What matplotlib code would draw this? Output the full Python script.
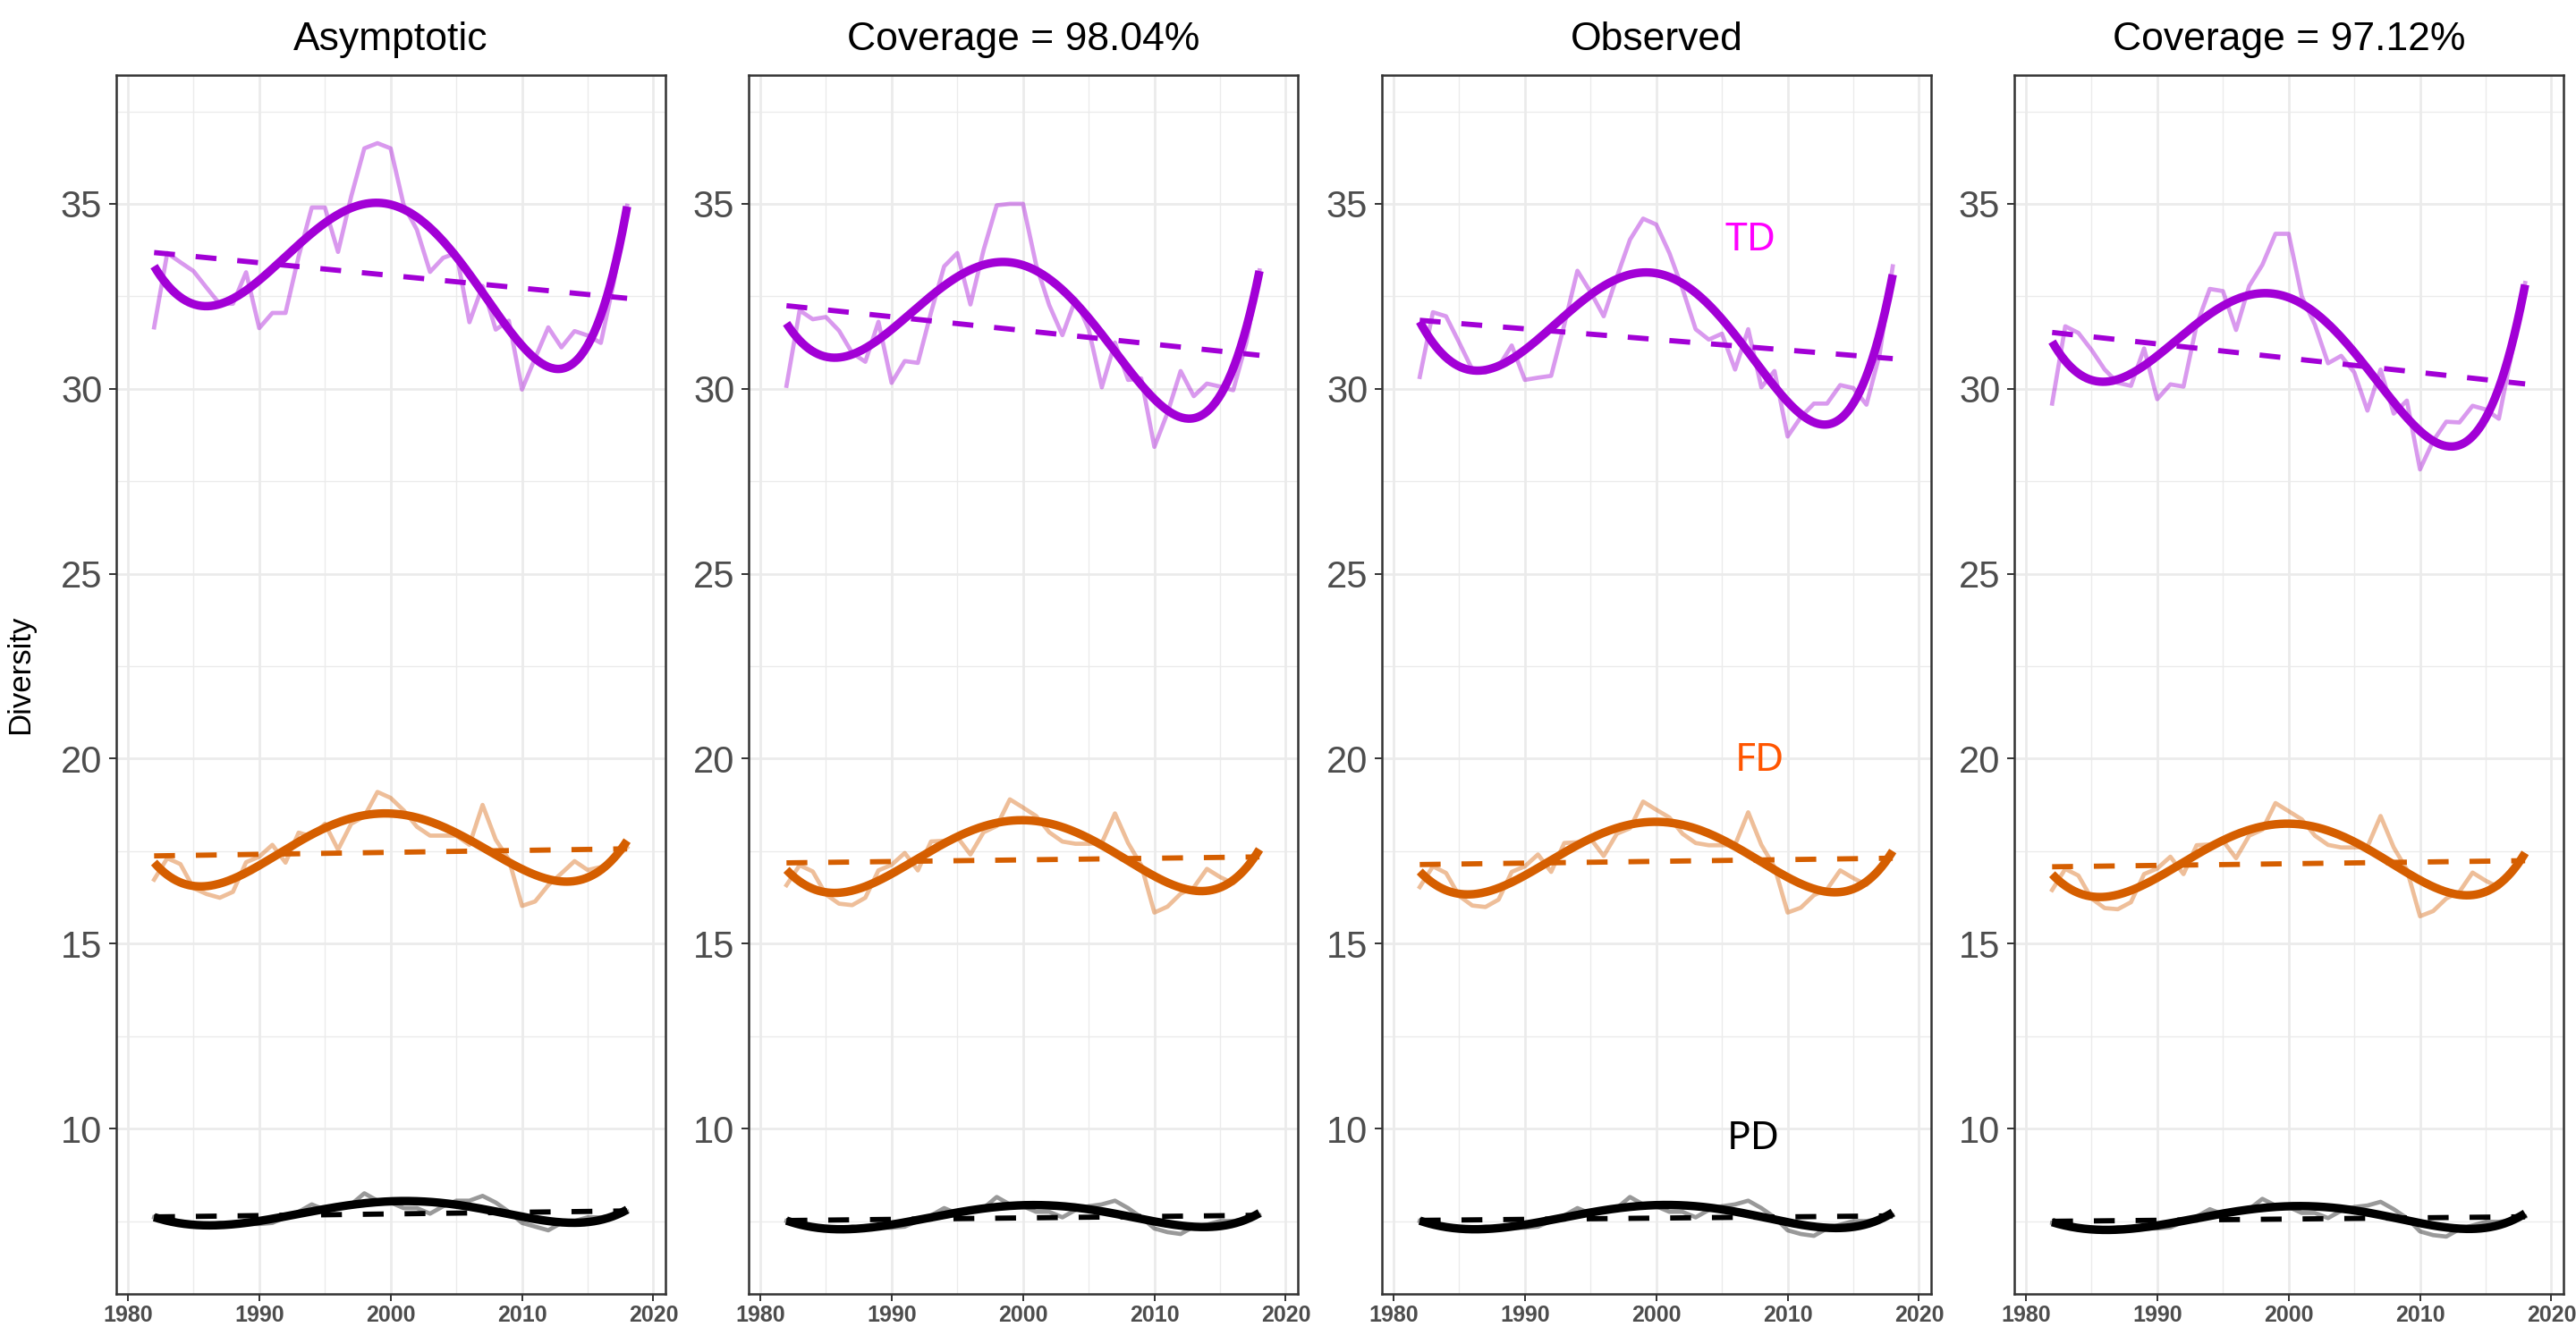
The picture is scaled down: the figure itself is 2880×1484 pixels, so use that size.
import numpy as np
import matplotlib.pyplot as plt
from matplotlib.ticker import MultipleLocator

# yearly diversity values, 1982-2018
years = np.arange(1982, 2019)

titles = ["Asymptotic", "Coverage = 98.04%", "Observed", "Coverage = 97.12%"]

td1 = [31.66, 33.67, 33.42, 33.18, 32.73, 32.29, 32.30, 33.15, 31.64, 32.05, 32.05, 33.58, 34.90,
       34.90, 33.70, 35.20, 36.50, 36.64, 36.50, 34.96, 34.30, 33.16, 33.54, 33.67, 31.80, 32.78,
       31.60, 31.84, 29.98, 30.83, 31.66, 31.12, 31.56, 31.44, 31.24, 32.90, 34.95]
td2 = [30.08, 32.12, 31.88, 31.94, 31.57, 30.97, 30.73, 31.81, 30.16, 30.75, 30.70, 32.06, 33.31,
       33.67, 32.28, 33.75, 34.96, 35.00, 35.00, 33.35, 32.26, 31.45, 32.42, 31.61, 30.04, 31.25,
       30.24, 30.28, 28.43, 29.35, 30.48, 29.80, 30.14, 30.06, 29.96, 31.25, 33.20]
td3 = [30.32, 32.07, 31.96, 31.25, 30.52, 30.44, 30.60, 31.17, 30.24, 30.30, 30.35, 31.73, 33.19,
       32.62, 31.96, 33.02, 34.03, 34.60, 34.44, 33.67, 32.70, 31.61, 31.33, 31.49, 30.52, 31.61,
       30.04, 30.48, 28.71, 29.23, 29.60, 29.60, 30.10, 30.02, 29.57, 30.93, 33.31]
td4 = [29.60, 31.69, 31.51, 31.05, 30.52, 30.16, 30.08, 31.09, 29.72, 30.12, 30.06, 31.73, 32.70,
       32.64, 31.59, 32.78, 33.35, 34.19, 34.19, 32.50, 31.73, 30.69, 30.89, 30.44, 29.41, 30.52,
       29.33, 29.68, 27.82, 28.59, 29.11, 29.09, 29.54, 29.44, 29.19, 31.00, 32.86]

fd1 = [16.73, 17.31, 17.15, 16.50, 16.34, 16.24, 16.40, 17.20, 17.35, 17.67, 17.19, 18.00, 17.90,
       18.24, 17.54, 18.24, 18.44, 19.10, 18.94, 18.60, 18.16, 17.92, 17.92, 17.92, 17.67, 18.75,
       17.81, 17.27, 16.02, 16.14, 16.58, 16.90, 17.23, 16.99, 17.07, 17.27, 17.60]
fd2 = [16.58, 17.12, 16.95, 16.33, 16.08, 16.04, 16.24, 16.98, 17.13, 17.45, 16.98, 17.76, 17.78,
       17.88, 17.41, 18.01, 18.18, 18.90, 18.68, 18.45, 18.01, 17.76, 17.70, 17.70, 17.72, 18.52,
       17.72, 17.12, 15.84, 16.00, 16.35, 16.52, 17.02, 16.80, 16.63, 16.98, 17.45]
fd3 = [16.53, 17.09, 16.91, 16.29, 16.03, 15.99, 16.19, 16.94, 17.09, 17.41, 16.94, 17.72, 17.74,
       17.84, 17.37, 17.97, 18.12, 18.84, 18.62, 18.41, 17.97, 17.72, 17.66, 17.66, 17.67, 18.55,
       17.67, 17.07, 15.84, 15.97, 16.31, 16.47, 16.98, 16.77, 16.59, 16.94, 17.41]
fd4 = [16.45, 17.02, 16.84, 16.22, 15.96, 15.93, 16.12, 16.88, 17.03, 17.35, 16.88, 17.66, 17.68,
       17.78, 17.31, 17.92, 18.08, 18.80, 18.58, 18.36, 17.92, 17.67, 17.60, 17.60, 17.62, 18.45,
       17.60, 17.00, 15.74, 15.88, 16.22, 16.40, 16.92, 16.70, 16.52, 16.88, 17.35]

pd1 = [7.60, 7.50, 7.45, 7.40, 7.40, 7.45, 7.40, 7.42, 7.42, 7.45, 7.60, 7.75, 7.95, 7.80, 7.85,
       7.95, 8.25, 8.05, 8.00, 7.85, 7.85, 7.70, 7.90, 8.05, 8.05, 8.18, 8.00, 7.75, 7.45, 7.35,
       7.25, 7.45, 7.50, 7.60, 7.60, 7.65, 7.75]
pd2 = [7.50, 7.40, 7.35, 7.30, 7.30, 7.35, 7.30, 7.32, 7.32, 7.35, 7.50, 7.65, 7.85, 7.70, 7.75,
       7.85, 8.15, 7.95, 7.90, 7.75, 7.75, 7.60, 7.80, 7.90, 7.95, 8.05, 7.85, 7.60, 7.30, 7.20,
       7.15, 7.35, 7.40, 7.50, 7.50, 7.55, 7.65]
pd3 = [7.50, 7.40, 7.35, 7.30, 7.30, 7.35, 7.30, 7.32, 7.32, 7.35, 7.50, 7.65, 7.85, 7.70, 7.75,
       7.85, 8.15, 7.95, 7.90, 7.75, 7.75, 7.60, 7.80, 7.90, 7.95, 8.05, 7.85, 7.60, 7.25, 7.15,
       7.10, 7.30, 7.40, 7.50, 7.50, 7.55, 7.65]
pd4 = [7.45, 7.38, 7.33, 7.28, 7.28, 7.33, 7.28, 7.30, 7.30, 7.33, 7.48, 7.62, 7.82, 7.68, 7.72,
       7.82, 8.10, 7.92, 7.88, 7.72, 7.72, 7.58, 7.78, 7.88, 7.92, 8.02, 7.82, 7.58, 7.22, 7.12,
       7.08, 7.28, 7.38, 7.48, 7.48, 7.52, 7.62]

TD = [td1, td2, td3, td4]
FD = [fd1, fd2, fd3, fd4]
PD = [pd1, pd2, pd3, pd4]

cols = {"TD": "#A200D6", "FD": "#D55E00", "PD": "#000000"}
lab_cols = {"TD": "#FF00FF", "FD": "#FF5500", "PD": "#000000"}
lab_pos = {"TD": (2007.2, 34.0), "FD": (2007.9, 19.95), "PD": (2007.4, 9.72)}

plt.rcParams['font.family'] = ['Liberation Sans', 'DejaVu Sans']

fig = plt.figure(figsize=(28.8, 14.84), dpi=100)
lefts = [130, 837, 1545, 2252]
W, H = 2880, 1484
bot, top = 1447, 84

xx = np.linspace(1982, 2018, 300)

for i in range(4):
    ax = fig.add_axes([lefts[i] / W, (H - bot) / H, 614 / W, (bot - top) / H])
    ax.set_xlim(1979.12, 2020.92)
    ax.set_ylim(5.53, 38.48)
    ax.xaxis.set_major_locator(MultipleLocator(10))
    ax.xaxis.set_minor_locator(MultipleLocator(5))
    ax.yaxis.set_major_locator(MultipleLocator(5))
    ax.yaxis.set_minor_locator(MultipleLocator(2.5))
    ax.grid(which='major', color='#EBEBEB', lw=2.0)
    ax.grid(which='minor', color='#EBEBEB', lw=1.0)
    ax.set_axisbelow(True)

    for key, data in (("TD", TD[i]), ("FD", FD[i]), ("PD", PD[i])):
        c = cols[key]
        raw = np.array(data)
        ax.plot(years, raw, color=c, alpha=0.4, lw=3.4)
        lin = np.polyfit(years - 2000, raw, 1)
        ax.plot(xx, np.polyval(lin, xx - 2000), color=c, lw=4.2, ls=(0, (4, 4)),
                dash_capstyle='butt')
        sm = np.polyfit(years - 2000, raw, 5)
        ax.plot(xx, np.polyval(sm, xx - 2000), color=c, lw=6.8, solid_capstyle='butt')

    for s in ax.spines.values():
        s.set_color('#333333')
        s.set_linewidth(1.8)
    ax.tick_params(which='major', length=5.8, width=1.4, color='#333333')
    ax.tick_params(which='minor', length=0)
    ax.tick_params(axis='x', labelsize=18, labelcolor='#4D4D4D', pad=3)
    ax.tick_params(axis='y', labelsize=30, labelcolor='#4D4D4D', pad=5.5)
    for t in ax.get_xticklabels():
        t.set_fontweight('bold')
    ax.set_title(titles[i], fontsize=32, pad=20)

    if i == 0:
        ax.set_ylabel("Diversity", fontsize=25)
        ax.yaxis.set_label_coords(-0.148, 0.508)
    if i == 2:
        for key, (lx, ly) in lab_pos.items():
            ax.text(lx, ly, key, color=lab_cols[key], fontsize=32, ha='center', va='center',
                    family=['Noto Sans', 'DejaVu Sans'])

plt.savefig("out.png", dpi=100)
